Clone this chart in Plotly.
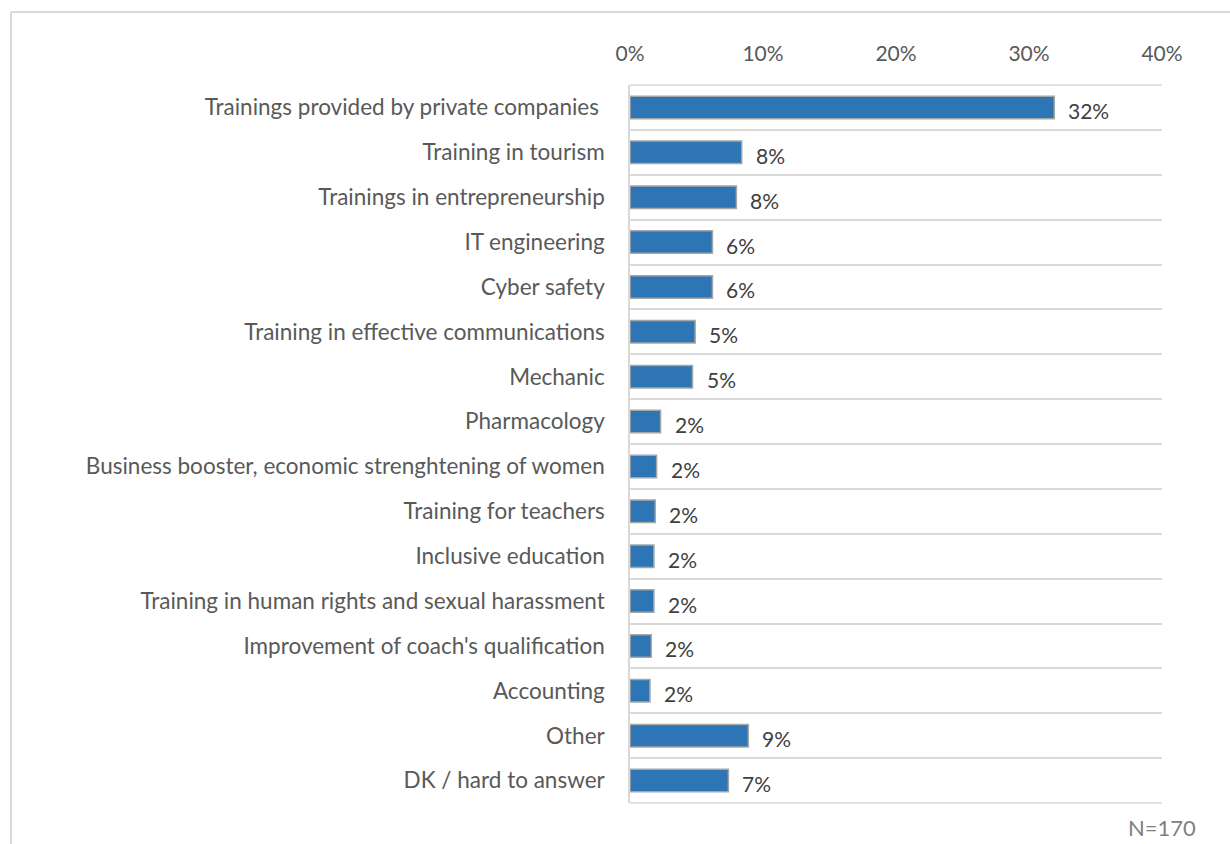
import plotly.graph_objects as go

# Share of respondents by type of training (multiple answers), N=170
categories = [
    "Trainings provided by private companies ",
    "Training in tourism",
    "Trainings in entrepreneurship",
    "IT engineering",
    "Cyber safety",
    "Training in effective communications",
    "Mechanic",
    "Pharmacology",
    "Business booster, economic strenghtening of women",
    "Training for teachers",
    "Inclusive education",
    "Training in human rights and sexual harassment",
    "Improvement of coach's qualification",
    "Accounting",
    "Other",
    "DK / hard to answer",
]
shares = [31.9, 8.4, 8.0, 6.2, 6.2, 4.9, 4.7, 2.3, 2.0, 1.9, 1.8, 1.8, 1.6, 1.5, 8.9, 7.4]
tick_values = [0, 10, 20, 30, 40]
tick_labels = ["0%", "10%", "20%", "30%", "40%"]
sample_note = "N=170"

W, H = 1230, 844
M_L, M_R, M_T, M_B = 630, 68, 85, 41
FONT = "Lato"
GRID = "#D9D9D9"

fig = go.Figure(
    go.Bar(
        x=shares,
        y=categories,
        orientation="h",
        width=0.5,
        marker=dict(color="#2E75B6", line=dict(color="#A6A6A6", width=1.5)),
        hoverinfo="skip",
    )
)

# value labels to the right of each bar
for cat, v in zip(categories, shares):
    fig.add_annotation(
        x=v, y=cat, text=f"{v:.0f}%", showarrow=False,
        xanchor="left", yanchor="middle", xshift=12, yshift=-3,
        font=dict(family=FONT, size=21, color="#404040"),
    )

# boundary lines above the first and below the last category
for yy in (0, 1):
    fig.add_shape(type="line", xref="paper", yref="paper", x0=0, x1=1, y0=yy, y1=yy,
                  line=dict(color=GRID, width=1.5), layer="below")

# outer frame around the chart area (left and top edges)
pw, ph = W - M_L - M_R, H - M_T - M_B
fx = (11 - M_L) / pw
fy = 1 + (M_T - 12) / ph
fig.add_shape(type="line", xref="paper", yref="paper", x0=fx, x1=fx, y0=-1, y1=fy,
              line=dict(color=GRID, width=2))
fig.add_shape(type="line", xref="paper", yref="paper", x0=fx, x1=2, y0=fy, y1=fy,
              line=dict(color=GRID, width=2))

fig.add_annotation(
    text=sample_note, xref="paper", yref="paper", x=1 + 36 / pw, y=-24 / ph,
    xanchor="right", yanchor="middle", showarrow=False,
    font=dict(family=FONT, size=22, color="#808080"),
)

fig.update_layout(
    width=W, height=H,
    margin=dict(l=M_L, r=M_R, t=M_T, b=M_B, pad=0),
    paper_bgcolor="white", plot_bgcolor="white",
    showlegend=False,
    xaxis=dict(
        side="top", range=[0, 40], tickvals=tick_values, ticktext=tick_labels,
        showgrid=False, zeroline=False, showline=False, ticks="",
        ticklabelstandoff=19,
        tickfont=dict(family=FONT, size=21, color="#595959"),
    ),
    yaxis=dict(
        autorange="reversed", tickson="boundaries", showgrid=True,
        gridcolor=GRID, gridwidth=1.5, ticks="",
        showline=True, linecolor=GRID, linewidth=1.5,
        ticklabelstandoff=19,
        tickfont=dict(family=FONT, size=22.5, color="#595959"),
    ),
)

fig.write_html("out.html")
